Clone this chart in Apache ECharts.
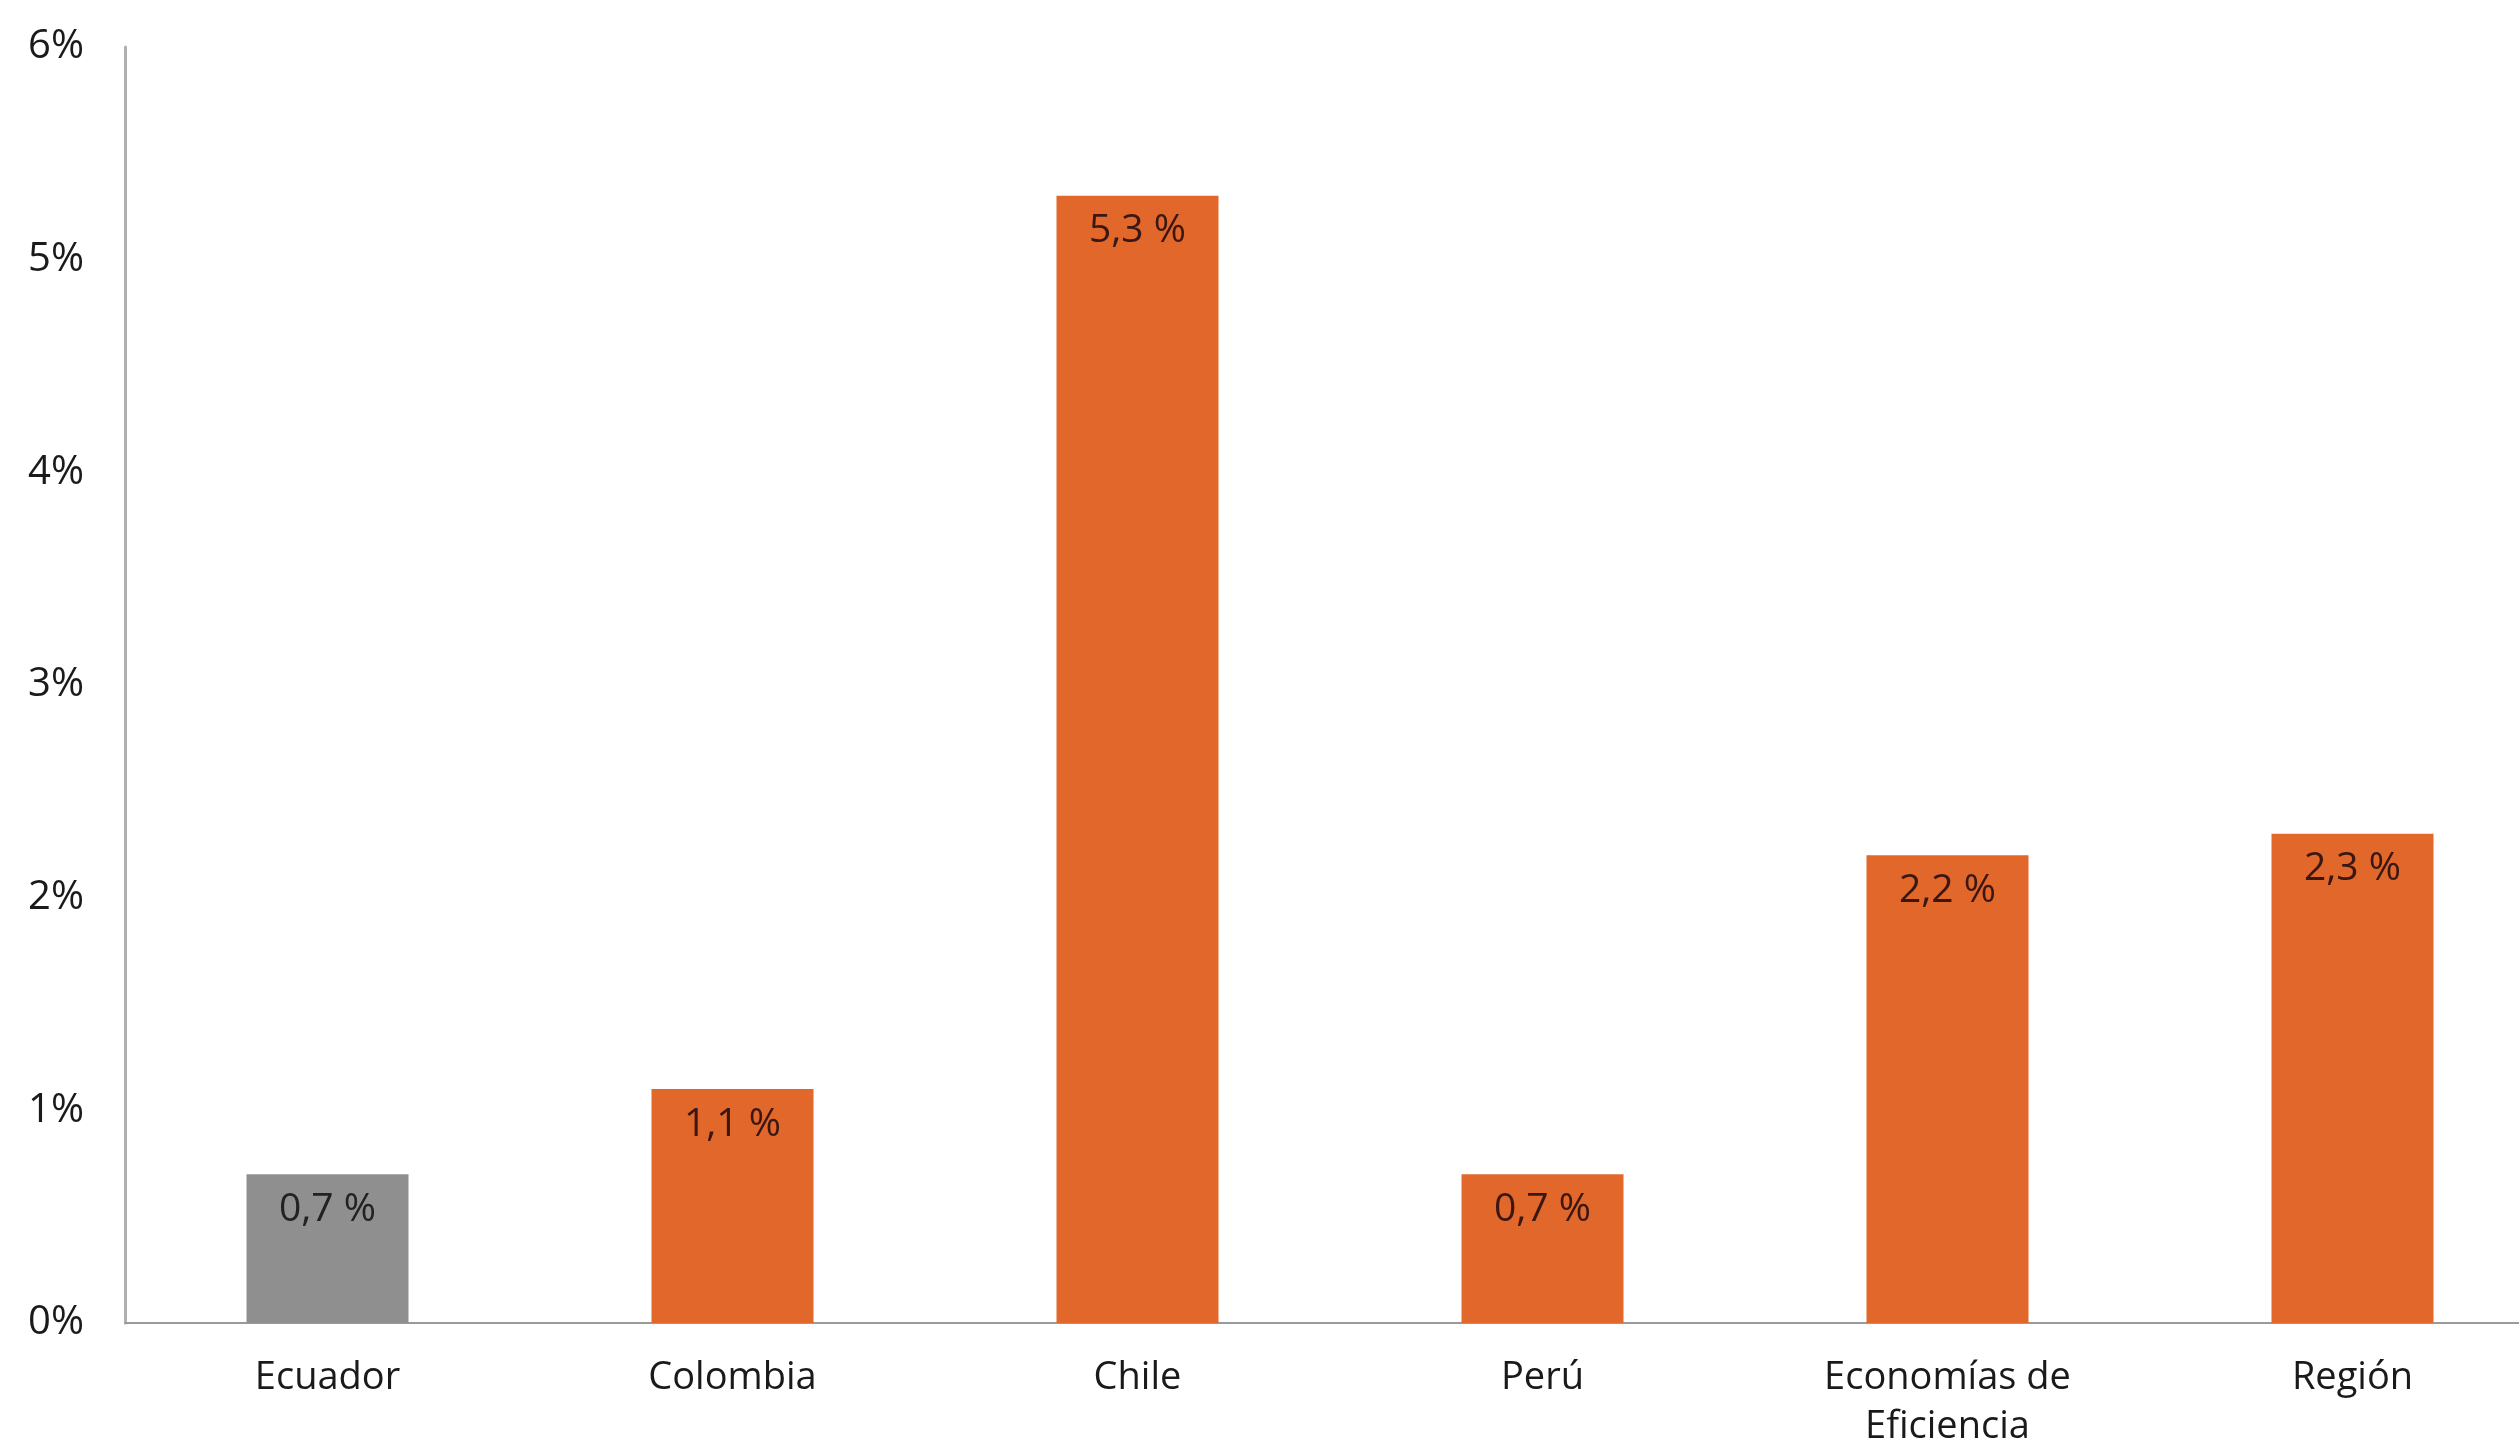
<!DOCTYPE html>
<html>
<head>
<meta charset="utf-8">
<script src="https://cdn.jsdelivr.net/npm/echarts@6/dist/echarts.min.js"></script>
<style>
html,body{margin:0;padding:0;background:#fff;}
#chart{width:2519px;height:1442px;}
</style>
</head>
<body>
<div id="chart"></div>
<script>
const categories = ['Ecuador', 'Colombia', 'Chile', 'Perú', 'Economías de\nEficiencia', 'Región'];
const values = [0.7, 1.1, 5.3, 0.7, 2.2, 2.3];
const barColors = ['#8F8F8F', '#E2672B', '#E2672B', '#E2672B', '#E2672B', '#E2672B'];
const yTicks = [0, 1, 2, 3, 4, 5, 6];

const FONT = '"Open Sans"';
const chart = echarts.init(document.getElementById('chart'));
chart.setOption({
  animation: false,
  backgroundColor: '#ffffff',
  grid: { left: 125, right: -36, top: 47, bottom: 119, containLabel: false, outerBoundsMode: 'none' },
  xAxis: {
    type: 'category',
    data: categories,
    axisLine: { show: true, lineStyle: { color: '#9A9A9A', width: 2 } },
    axisTick: { show: false },
    axisLabel: {
      color: '#1a1a1a', fontFamily: FONT, fontSize: 38, lineHeight: 49, margin: 31,
      interval: 0
    },
    splitLine: { show: false }
  },
  yAxis: {
    type: 'value',
    min: yTicks[0], max: yTicks[yTicks.length - 1], interval: 1,
    axisLine: { show: true, lineStyle: { color: '#B0B0B0', width: 3 } },
    axisTick: { show: false },
    splitLine: { show: false },
    axisLabel: {
      color: '#1a1a1a', fontFamily: FONT, fontSize: 40, margin: 41,
      formatter: v => v + '%'
    }
  },
  series: [{
    type: 'bar',
    data: values.map((v, i) => ({
      value: v,
      itemStyle: { color: barColors[i] },
      label: { color: i === 0 ? '#222222' : '#3a1712' }
    })),
    barCategoryGap: '60%',
    label: {
      show: true,
      position: 'insideTop',
      distance: 16,
      fontFamily: FONT,
      fontSize: 39,
      formatter: p => p.value.toFixed(1).replace('.', ',') + ' %'
    }
  }]
});
</script>
</body>
</html>
